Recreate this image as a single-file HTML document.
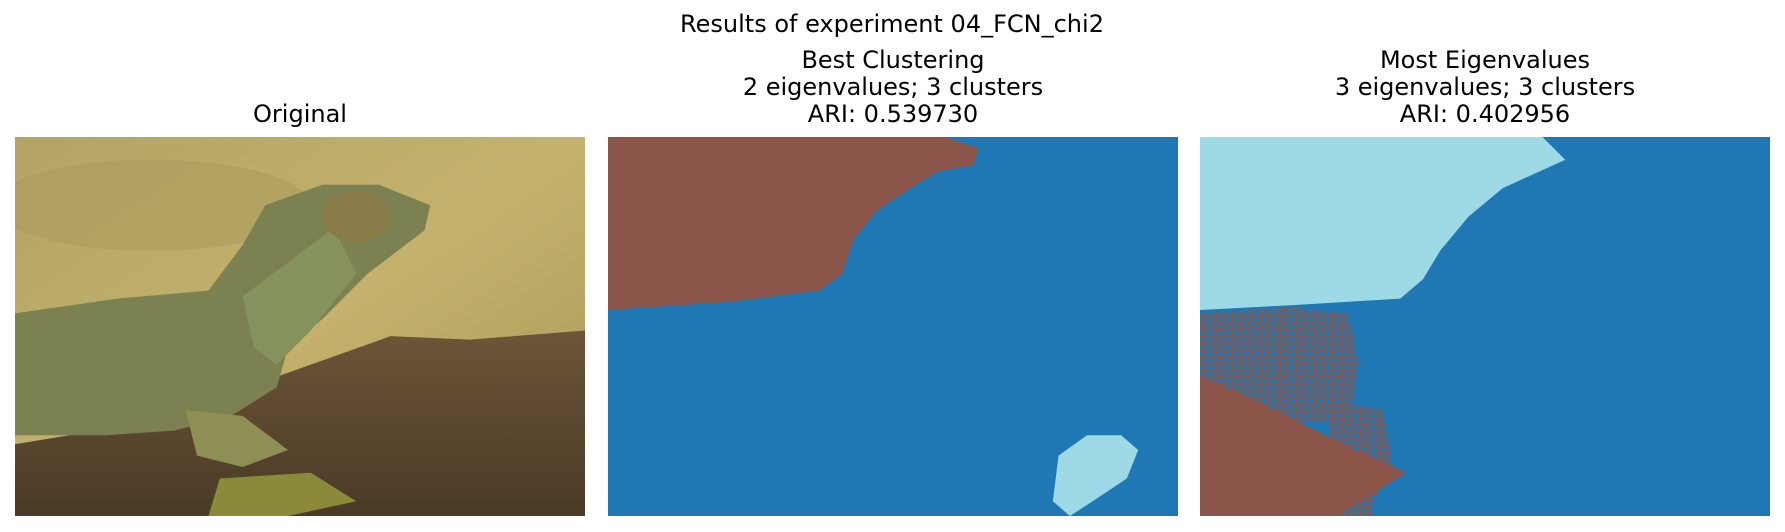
<!DOCTYPE html>
<html><head><meta charset="utf-8"><style>
body{margin:0;width:1785px;height:532px;background:#fff;position:relative;overflow:hidden;font-family:"DejaVu Sans","Liberation Sans",sans-serif;color:#000}
.t{position:absolute;text-align:center;font-size:24px;line-height:27px;white-space:nowrap;transform:translateX(-50%)}
svg.p{position:absolute;top:137px;width:570px;height:379px}
</style></head><body>
<div class="t" style="left:892px;top:11px">Results of experiment 04_FCN_chi2</div>
<div class="t" style="left:300px;top:101px">Original</div>
<div class="t" style="left:893px;top:47px">Best Clustering<br>2 eigenvalues; 3 clusters<br>ARI: 0.539730</div>
<div class="t" style="left:1485px;top:47px">Most Eigenvalues<br>3 eigenvalues; 3 clusters<br>ARI: 0.402956</div>

<svg class="p" style="left:15px" viewBox="0 0 501 333" preserveAspectRatio="none">
<defs>
<linearGradient id="bg" x1="0" y1="0" x2="1" y2="1"><stop offset="0" stop-color="#b3a466"/><stop offset="0.5" stop-color="#c4b26c"/><stop offset="1" stop-color="#a89858"/></linearGradient>
<linearGradient id="rk" x1="0" y1="0" x2="0" y2="1"><stop offset="0" stop-color="#6d5538"/><stop offset="1" stop-color="#4a3a26"/></linearGradient>
</defs>
<rect width="501" height="333" fill="url(#bg)"/>
<ellipse cx="120" cy="60" rx="140" ry="40" fill="#a8995c" opacity="0.5"/>
<polygon points="260,200 330,175 400,178 501,170 501,333 0,333 0,270 120,250" fill="url(#rk)"/>
<polygon points="0,155 90,142 170,135 200,95 220,60 270,42 320,42 365,60 360,82 310,120 270,160 240,185 230,220 190,245 140,258 80,262 0,262" fill="#7b8150"/>
<polygon points="200,140 240,110 280,80 300,120 260,170 230,200 210,185" fill="#86925e"/>
<ellipse cx="300" cy="70" rx="30" ry="22" fill="#8a7c48"/>
<polygon points="150,240 200,245 240,275 200,290 160,280" fill="#8d8f55"/>
<polygon points="180,300 260,295 300,320 240,333 170,333" fill="#8a8a3a"/>
</svg>

<svg class="p" style="left:608px" viewBox="0 0 501 333" preserveAspectRatio="none">
<rect width="501" height="333" fill="#1f77b4"/>
<polygon points="0,0 296,0 326,10 321,25 291,30 266,45 236,65 216,90 206,120 186,135 106,145 0,152" fill="#8c564b"/>
<polygon points="421,262 451,262 466,275 456,300 426,320 406,333 391,320 396,280" fill="#9edae5"/>
</svg>

<svg class="p" style="left:1200px" viewBox="0 0 501 333" preserveAspectRatio="none">
<defs>
<pattern id="sp" width="8" height="6" patternUnits="userSpaceOnUse">
<rect x="0" y="0" width="4" height="3" fill="#8c564b"/><rect x="4" y="3" width="3" height="3" fill="#8c564b"/><rect x="5" y="0" width="2" height="2" fill="#8c564b"/>
</pattern>
</defs>
<rect width="501" height="333" fill="#1f77b4"/>
<polygon points="0,0 301,0 321,20 266,45 236,70 211,100 196,125 176,142 76,148 0,152" fill="#9edae5"/>
<polygon points="0,155 80,150 130,155 140,200 130,250 0,250" fill="url(#sp)"/>
<polygon points="110,230 160,240 170,290 120,300" fill="url(#sp)"/>
<polygon points="0,210 46,230 126,270 181,295 150,315 120,333 0,333" fill="#8c564b"/>
<polygon points="100,290 160,300 150,333 90,333" fill="url(#sp)"/>
</svg>
</body></html>
